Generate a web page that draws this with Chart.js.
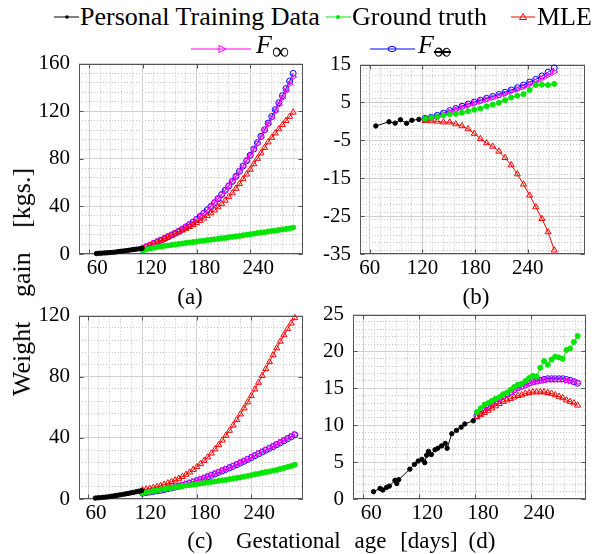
<!DOCTYPE html>
<html><head><meta charset="utf-8">
<script src="https://cdn.jsdelivr.net/npm/chart.js@4/dist/chart.umd.min.js"></script>
<style>
html,body{margin:0;padding:0;background:#fff;}
#wrap{position:relative;width:610px;height:554px;overflow:hidden;font-family:"Liberation Serif","Times New Roman",serif;color:#000;}
canvas{position:absolute;}
.t{position:absolute;white-space:nowrap;font-size:23px;line-height:24px;}
.lg{font-size:26px;line-height:26px;}
svg{position:absolute;overflow:visible;}
</style></head><body><div id="wrap">
<canvas id="ca"></canvas><canvas id="cb"></canvas><canvas id="cc"></canvas><canvas id="cd"></canvas>

<svg style="left:54px;top:7px" width="26" height="20"><line x1="0" y1="10" x2="25" y2="10" stroke="#000" stroke-width="1"/><circle cx="13" cy="10" r="1.8" fill="#000"/></svg>
<div class="t lg" style="left:80px;top:4px">Personal Training Data</div>
<svg style="left:326px;top:7px" width="26" height="20"><line x1="0" y1="10" x2="25" y2="10" stroke="#00e600" stroke-width="1"/><circle cx="12" cy="10" r="2" fill="#00e600"/></svg>
<div class="t lg" style="left:352px;top:4px">Ground truth</div>
<svg style="left:511px;top:7px" width="26" height="20"><line x1="0" y1="10" x2="24" y2="10" stroke="#ff0000" stroke-width="1"/><polygon points="12,6.5 15.5,12.5 8.5,12.5" fill="none" stroke="#ff0000" stroke-width="1"/></svg>
<div class="t lg" style="left:537px;top:4px">MLE</div>

<svg style="left:191px;top:39px" width="62" height="20"><line x1="0" y1="10" x2="60" y2="10" stroke="#ff00ff" stroke-width="1"/><polygon points="28,6.5 35,10 28,13.5" fill="none" stroke="#ff00ff" stroke-width="1"/></svg>
<div class="t" style="left:256px;top:33px;font-size:26px"><i>F</i><span style="font-size:24px;position:relative;top:6px">∞</span></div>
<svg style="left:370px;top:39px" width="46" height="20"><line x1="0" y1="10" x2="45" y2="10" stroke="#0000ff" stroke-width="1"/><ellipse cx="22" cy="10" rx="4" ry="2.6" fill="none" stroke="#0000ff" stroke-width="1"/></svg>
<div class="t" style="left:418px;top:33px;font-size:26px"><i>F</i><span style="font-size:24px;position:relative;top:6px;text-decoration:line-through">∞</span></div>

<div class="t" style="left:22px;top:282px;transform:translate(-50%,-50%) rotate(-90deg);font-size:26px;line-height:26px;word-spacing:18px">Weight gain [kgs.]</div>
<div class="t" style="left:190px;top:297px;transform:translate(-50%,-50%)">(a)</div>
<div class="t" style="left:476px;top:297px;transform:translate(-50%,-50%)">(b)</div>
<div class="t" style="left:200px;top:541px;transform:translate(-50%,-50%)">(c)</div>
<div class="t" style="left:482px;top:541px;transform:translate(-50%,-50%)">(d)</div>
<div class="t" style="left:236px;top:529px;word-spacing:8px">Gestational age [days]</div>
</div>
<script>
// ---------- tick labels ----------
const xTicks = [60, 120, 180, 240];
const yTicksA = [0, 40, 80, 120, 160];
const yTicksB = [-35, -25, -15, -5, 5, 15];
const yTicksC = [0, 40, 80, 120];
const yTicksD = [0, 5, 10, 15, 20, 25];

// ---------- panel (a) ----------
const trainDaysA = [68,71,74,77,80,83,86,89,92,95,98,101,104,107,110,113,116,119];
const trainA = [0.4,0.6,0.7,0.9,1.0,1.2,1.4,1.6,2.0,2.3,2.5,2.8,3.1,3.5,3.8,4.1,4.4,4.8];
const predDaysA = [120,124,128,132,136,140,144,148,152,156,160,164,168,172,176,180,184,188,192,196,200,204,208,212,216,220,224,228,232,236,240,244,248,252,256,260,264,268,272,276,280,284,288];
const truthA = [3.0,4.0,4.6,5.2,5.8,6.2,6.8,7.1,7.6,8.0,8.5,8.8,9.3,9.6,10.0,10.4,10.9,11.1,11.6,12.0,12.4,12.7,13.3,13.5,14.0,14.4,14.9,15.1,15.8,16.2,16.6,17.0,17.6,18.0,18.3,18.9,19.4,19.6,20.2,20.6,21.0,21.5,22.2];
const mleA = [4.8,6.0,7.3,8.6,10.0,11.4,12.8,14.2,15.6,17.0,18.4,19.9,21.4,22.9,24.5,26.2,28.0,30.0,32.1,34.4,36.8,39.4,42.1,45.0,48.0,51.2,55.0,59.0,63.0,67.0,71.0,75.6,80.2,84.8,89.4,94.0,97.8,101.5,105.0,108.5,112.0,115.5,119.0];
const fInfA = [5.0,6.3,7.6,9.0,10.4,11.8,13.2,14.6,16.0,17.5,19.0,20.8,22.7,24.7,26.8,29.0,31.6,34.2,37.0,39.9,43.0,46.4,49.9,53.5,57.2,61.0,65.2,69.5,73.9,78.4,82.6,87.6,92.7,98.0,103.3,108.8,114.2,119.7,125.3,131.0,136.8,142.7,148.8];
const fInf2A = [4.5,5.8,7.1,8.5,10.0,11.5,12.9,14.4,15.9,17.4,19.0,20.8,22.7,24.7,26.8,29.0,31.6,34.2,37.0,39.9,43.0,46.4,49.9,53.5,57.2,61.0,65.2,69.5,73.9,78.4,83.0,88.2,93.5,98.9,104.4,110.0,115.6,121.3,127.1,133.0,139.0,145.3,151.8];

// ---------- panel (b) ----------
const trainDaysB = [67,82,89,95,102,108,116];
const trainB = [-1.2,-0.1,-0.45,0.45,-0.5,0.3,0.55];
const predDaysB = [123,130,137,144,151,158,165,172,179,186,193,200,207,214,221,228,235,242,249,256,263,270];
const truthB = [0.7,1.0,1.3,1.6,1.9,2.0,2.3,2.7,3.1,3.4,4.0,4.4,4.9,5.6,6.3,6.8,7.2,8.3,9.6,9.7,9.6,9.9];
const mleB = [0.2,0.1,0.0,-0.2,-0.2,-0.7,-1.2,-2.0,-3.2,-4.6,-5.7,-6.6,-7.9,-9.6,-11.5,-13.9,-16.6,-19.5,-22.6,-25.7,-29.2,-34.0];
const fInfB = [0.5,0.8,1.3,1.9,2.5,3.1,3.7,4.3,4.8,5.3,5.8,6.3,6.8,7.3,7.9,8.5,9.1,9.8,10.5,11.3,12.2,13.1];
const fInf2B = [0.8,1.05,1.6,2.2,2.85,3.4,4.0,4.6,5.1,5.6,6.1,6.6,7.1,7.7,8.3,8.9,9.6,10.4,11.1,12.0,13.0,14.1];

// ---------- panel (c) ----------
const trainDaysC = [68,71,74,77,80,83,86,89,92,95,98,101,104,107,110,113,116,119];
const trainC = [0.6,0.8,0.9,1.1,1.3,1.5,1.8,2.1,2.4,2.7,3.0,3.3,3.6,4.0,4.3,4.7,5.1,5.5];
const predDaysC = [120,124,128,132,136,140,144,148,152,156,160,164,168,172,176,180,184,188,192,196,200,204,208,212,216,220,224,228,232,236,240,244,248,252,256,260,264,268,272,276,280,284,288];
const truthC = [3.8,4.3,4.8,5.3,5.7,6.2,6.6,7.0,7.3,7.7,8.1,8.4,8.8,9.0,9.4,9.8,10.1,10.5,10.8,11.2,11.5,11.9,12.3,12.5,13.0,13.4,13.8,14.1,14.7,15.1,15.6,16.2,16.5,17.1,17.6,18.0,18.6,19.0,19.7,20.3,21.0,21.6,22.4];
const mleC = [6.0,6.4,6.9,7.4,8.0,8.7,9.5,10.4,11.3,12.3,13.4,14.6,16.0,17.5,19.2,21.0,23.0,25.1,27.4,29.9,32.6,35.4,38.4,41.5,44.8,48.2,51.8,55.5,59.4,63.4,67.5,71.8,76.2,80.7,85.2,89.7,94.2,98.7,103.1,107.3,111.3,115.0,118.5];
const fInfC = [4.1,4.4,4.8,5.2,5.6,6.0,6.5,7.0,7.5,8.1,8.7,9.3,10.0,10.7,11.4,12.2,13.0,13.9,14.8,15.8,16.7,17.7,18.7,19.7,20.7,21.7,22.8,23.9,25.0,26.2,27.4,28.6,29.8,31.0,32.2,33.4,34.6,35.8,37.1,38.4,39.7,41.0,42.3];
const fInf2C = [3.8,4.1,4.5,4.9,5.3,5.7,6.2,6.7,7.2,7.8,8.4,9.0,9.7,10.4,11.1,11.9,12.7,13.6,14.5,15.5,16.4,17.4,18.4,19.4,20.4,21.4,22.5,23.6,24.7,25.9,27.1,28.3,29.5,30.7,31.9,33.1,34.3,35.5,36.8,38.1,39.4,40.7,42.0];

// ---------- panel (d) ----------
const trainDaysD = [71,78,81,85,88,94,96,98,110,115,119,123,126,128,130,133,137,140,144,148,150,155,160,165,169,178];
const trainD = [1.0,1.44,1.22,1.57,1.75,2.53,2.1,2.62,4.05,4.7,5.15,5.37,4.93,5.94,6.46,6.03,6.68,6.88,7.2,7.54,6.88,8.85,9.3,9.73,10.17,10.6];
const predDaysD = [182,186,190,194,198,202,206,210,214,218,222,226,230,234,238,242,246,250,254,258,262,266,270,274,278,282,286,290];
const truthD = [11.8,12.3,12.8,13.0,13.3,13.6,13.8,14.2,14.4,14.8,15.2,15.5,15.6,16.0,16.4,16.7,16.6,17.8,18.7,18.2,18.9,19.3,19.2,19.0,20.2,20.4,21.3,22.1];
const mleD = [11.1,11.4,11.7,12.0,12.3,12.6,12.9,13.2,13.4,13.6,13.8,14.0,14.1,14.3,14.4,14.5,14.5,14.5,14.5,14.4,14.3,14.1,13.9,13.7,13.4,13.2,13.0,12.7];
const fInfD = [11.2,11.6,12.0,12.4,12.8,13.1,13.5,13.8,14.1,14.4,14.7,15.0,15.2,15.4,15.6,15.8,15.9,16.0,16.1,16.2,16.2,16.2,16.2,16.2,16.1,16.0,15.9,15.8];
const fInf2D = [11.3,11.7,12.1,12.5,12.9,13.2,13.6,13.9,14.2,14.5,14.8,15.1,15.3,15.5,15.7,15.9,16.0,16.1,16.2,16.3,16.3,16.3,16.3,16.3,16.2,16.1,15.9,15.7];

// ---------- styles ----------
const FONT = '"Liberation Serif","Times New Roman",serif';
const ST = {
  train: {borderColor:'#000', backgroundColor:'#000', pointStyle:'circle', pointRadius:2.2, pointBorderWidth:1, borderWidth:1},
  truth: {borderColor:'#00e600', backgroundColor:'#00e600', pointStyle:'circle', pointRadius:2.5, pointBorderWidth:1, borderWidth:1},
  mle:   {borderColor:'#ff0000', backgroundColor:'rgba(0,0,0,0)', pointStyle:'triangle', pointRadius:3.5, pointBorderWidth:1, borderWidth:1},
  finf:  {borderColor:'#ff00ff', backgroundColor:'rgba(0,0,0,0)', pointStyle:'triangle', rotation:90, pointRotation:90, pointRadius:3.5, pointBorderWidth:1, borderWidth:1},
  finf2: {borderColor:'#0000ff', backgroundColor:'rgba(0,0,0,0)', pointStyle:'circle', pointRadius:3, pointBorderWidth:1, borderWidth:1}
};
function ser(days, vals, st){
  return Object.assign({data: days.map((d,i)=>({x:d, y:vals[i]})), tension:0, clip:5}, st);
}

const boxPlugin = {
  id:'box',
  beforeDatasetsDraw(c){
    const a=c.chartArea, ctx=c.ctx, sx=c.scales.x, sy=c.scales.y;
    ctx.save();
    ctx.strokeStyle='#555'; ctx.lineWidth=1;
    const L=Math.round(a.left)+0.5, T=Math.round(a.top)+0.5, R=Math.round(a.right)-0.5, B=Math.round(a.bottom)-0.5;
    ctx.strokeRect(L, T, R-L, B-T);
    ctx.beginPath();
    sx.ticks.forEach(t=>{const p=Math.round(sx.getPixelForValue(t.value))+0.5; ctx.moveTo(p,B); ctx.lineTo(p,B-4); ctx.moveTo(p,T); ctx.lineTo(p,T+4);});
    sy.ticks.forEach(t=>{const p=Math.round(sy.getPixelForValue(t.value))+0.5; ctx.moveTo(L,p); ctx.lineTo(L+4,p); ctx.moveTo(R,p); ctx.lineTo(R-4,p);});
    ctx.stroke();
    ctx.restore();
  }
};

function minorList(min, max, step){
  const out=[]; for(let v=Math.ceil(min/step)*step; v<=max+1e-9; v+=step) out.push({value:v}); return out;
}

function makeChart(id, p){
  const YW=60, PT=15, PR=8, XH=30;
  const cv=document.getElementById(id);
  const W=YW+p.w+PR, H=PT+p.h+XH;
  cv.width=W; cv.height=H;
  cv.style.left=(p.left-YW)+'px'; cv.style.top=(p.top-PT)+'px';
  cv.style.width=W+'px'; cv.style.height=H+'px';
  const tickFont={family:FONT, size:21};
  new Chart(cv, {
    type:'line',
    data:{datasets:p.datasets},
    options:{
      responsive:false, animation:false, devicePixelRatio:1,
      layout:{padding:{top:PT, right:PR, left:0, bottom:0}},
      plugins:{legend:{display:false}, tooltip:{enabled:false}},
      scales:{
        xm:{type:'linear', position:'bottom', min:p.xmin, max:p.xmax, afterBuildTicks:s=>{s.ticks=minorList(p.xmin,p.xmax,p.xminor);}, afterFit:s=>{s.height=0;}, ticks:{display:false}, grid:{color:'#c4c4c4', drawTicks:false, lineWidth:1}, border:{display:false, dash:[1,2]}},
        ym:{type:'linear', position:'left', min:p.ymin, max:p.ymax, afterBuildTicks:s=>{s.ticks=minorList(p.ymin,p.ymax,p.yminor);}, afterFit:s=>{s.width=0;}, ticks:{display:false}, grid:{color:'#c4c4c4', drawTicks:false, lineWidth:1}, border:{display:false, dash:[1,2]}},
        x:{type:'linear', position:'bottom', min:p.xmin, max:p.xmax,
           afterBuildTicks:s=>{s.ticks=xTicks.map(v=>({value:v}));},
           afterFit:s=>{s.height=XH;},
           grid:{color:'#d0d0d0', drawTicks:false, lineWidth:1}, border:{display:false},
           ticks:{font:tickFont, color:'#000', padding:2, labelOffset:p.lo, maxRotation:0, autoSkip:false, callback:v=>String(v)}},
        y:{type:'linear', position:'left', min:p.ymin, max:p.ymax,
           afterBuildTicks:s=>{s.ticks=p.yTicks.map(v=>({value:v}));},
           afterFit:s=>{s.width=YW;},
           grid:{color:'#d0d0d0', drawTicks:false, lineWidth:1}, border:{display:false},
           ticks:{font:tickFont, color:'#000', padding:9, autoSkip:false, callback:v=>String(v)}}
      }
    },
    plugins:[boxPlugin]
  });
}

makeChart('ca', {left:79, top:57, w:224, h:197, xmin:48.5, xmax:299, ymin:0, ymax:160, yTicks:yTicksA, xminor:12, yminor:8, lo:8,
  datasets:[ser(trainDaysA,trainA,ST.train), ser(predDaysA,truthA,ST.truth), ser(predDaysA,mleA,ST.mle), ser(predDaysA,fInfA,ST.finf), ser(predDaysA,fInf2A,ST.finf2)]});
makeChart('cb', {left:360, top:58, w:225, h:196, xmin:49, xmax:305, ymin:-35, ymax:15, yTicks:yTicksB, xminor:12, yminor:2, lo:0,
  datasets:[ser(trainDaysB,trainB,ST.train), ser(predDaysB,truthB,ST.truth), ser(predDaysB,mleB,ST.mle), ser(predDaysB,fInfB,ST.finf), ser(predDaysB,fInf2B,ST.finf2)]});
makeChart('cc', {left:79, top:309, w:224, h:190, xmin:50, xmax:297, ymin:0, ymax:120, yTicks:yTicksC, xminor:12, yminor:8, lo:8,
  datasets:[ser(trainDaysC,trainC,ST.train), ser(predDaysC,truthC,ST.truth), ser(predDaysC,mleC,ST.mle), ser(predDaysC,fInfC,ST.finf), ser(predDaysC,fInf2C,ST.finf2)]});
makeChart('cd', {left:353, top:308, w:233, h:191, xmin:49, xmax:299, ymin:0, ymax:25, yTicks:yTicksD, xminor:12, yminor:1, lo:8,
  datasets:[ser(trainDaysD,trainD,ST.train), ser(predDaysD,truthD,ST.truth), ser(predDaysD,mleD,ST.mle), ser(predDaysD,fInfD,ST.finf), ser(predDaysD,fInf2D,ST.finf2)]});
</script>
</body></html>
